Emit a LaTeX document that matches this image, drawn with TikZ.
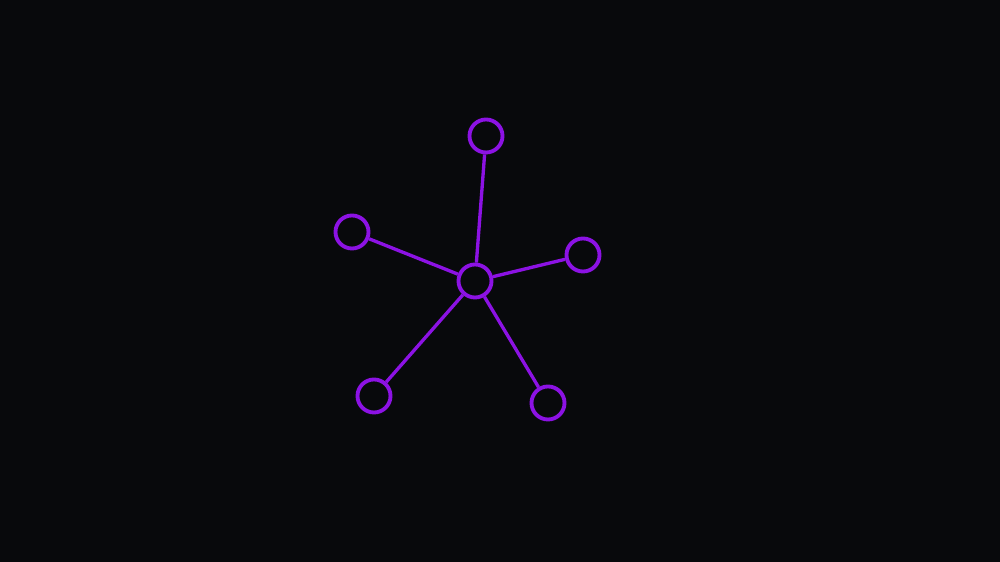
\documentclass[tikz,border=0pt]{standalone}
\definecolor{bg}{RGB}{8,9,12}
\definecolor{vio}{RGB}{140,18,228}
\begin{document}
\begin{tikzpicture}[x=0.01cm,y=-0.01cm,
  hub/.style={circle,draw=vio,line width=1.1pt,minimum size=0.33cm,inner sep=0pt,fill=bg},
  link/.style={draw=vio,line width=0.95pt}]
\fill[bg] (0,0) rectangle (1000,562);
\useasboundingbox (0,0) rectangle (1000,562);
\node[hub] (c) at (475,281) {};
\node[hub] (t) at (486,136) {};
\node[hub] (l) at (352,232) {};
\node[hub] (r) at (583,255) {};
\node[hub] (bl) at (374,396) {};
\node[hub] (br) at (548,403) {};
\foreach \n in {t,l,r,bl,br} \draw[link] (c) -- (\n);
\end{tikzpicture}
\end{document}
